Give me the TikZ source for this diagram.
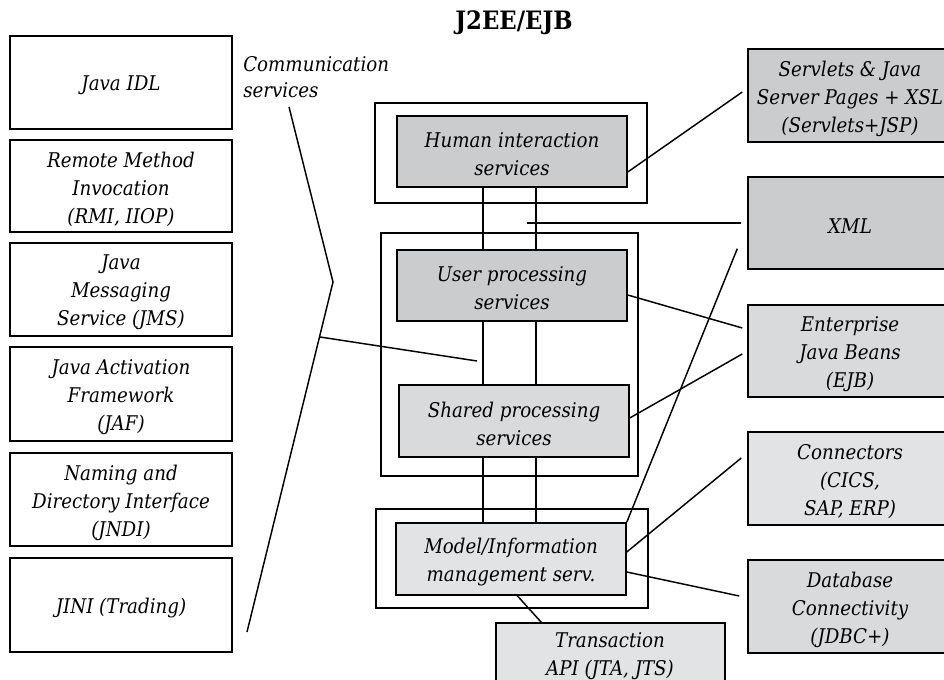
\documentclass[tikz,border=0pt]{standalone}
\usepackage{fontspec}
\setmainfont{DejaVu Serif Condensed}
\usetikzlibrary{fit,calc,backgrounds}
\definecolor{darkfill}{RGB}{203,204,206}
\definecolor{midfill}{RGB}{217,218,220}
\definecolor{lightfill}{RGB}{226,227,229}
\begin{document}
\begin{tikzpicture}[x=0.75pt,y=-0.75pt,
  every node/.style={font=\fontsize{15.2pt}{21pt}\selectfont\itshape, align=center, inner sep=0pt},
  lbl/.style={yshift=-2.2pt},
  box/.style={draw, line width=1.1pt},
  dark/.style={box, fill=darkfill},
  mid/.style={box, fill=midfill},
  light/.style={box, fill=lightfill},
  link/.style={line width=1.1pt}]
\useasboundingbox (0,0) rectangle (944,680);
\clip (0,0) rectangle (944,680);

% title
\node[font=\fontsize{19pt}{22pt}\selectfont\bfseries] (title) at (514,23) {J2EE/EJB};

% communication services column
\node[box, fit={(10,36) (232,129)}] (idl) {};
\node[box, fit={(10,140) (232,232)}] (rmi) {};
\node[box, fit={(10,243) (232,336)}] (jms) {};
\node[box, fit={(10,347) (232,441)}] (jaf) {};
\node[box, fit={(10,453) (232,546)}] (jndi) {};
\node[box, fit={(10,558) (232,652)}] (jini) {};
\node[lbl] (idlt) at (idl) {Java IDL};
\node[lbl] (rmit) at (rmi) {Remote Method\\Invocation\\(RMI, IIOP)};
\node[lbl] (jmst) at (jms) {Java\\Messaging\\Service (JMS)};
\node[lbl] (jaft) at (jaf) {Java Activation\\Framework\\(JAF)};
\node[lbl] (jndit) at (jndi) {Naming and\\Directory Interface\\(JNDI)};
\node[lbl] (jinit) at (jini) {JINI (Trading)};
\node[anchor=west, align=left, font=\fontsize{15.2pt}{19.5pt}\selectfont\itshape] (comm) at (243,77) {Communication\\services};

% tiers
\node[box, fit={(375,103) (647,203)}] (humout) {};
\node[box, fit={(381,233) (638,476)}] (midout) {};
\node[box, fit={(376,509) (648,608)}] (modout) {};

\coordinate (va) at (483,0);
\coordinate (vb) at (536,0);

\node[dark, fit={(397,116) (627,187)}] (hum) {};
\node[dark, fit={(397,250) (627,321)}] (usr) {};
\node[mid, fit={(399,385) (629,457)}] (shr) {};
\node[light, fit={(396,523) (626,595)}] (mod) {};
\node[light, fit={(496,623) (725,684)}] (trn) {};
\node[lbl] (humt) at (hum) {Human interaction\\services};
\node[lbl] (usrt) at (usr) {User processing\\services};
\node[lbl] (shrt) at (shr) {Shared processing\\services};
\node[lbl] (modt) at (mod) {Model/Information\\management serv.};
\node[lbl] (trnt) at (610,653) {Transaction\\API (JTA, JTS)};

% technologies on the right
\node[dark, fit={(748,49) (952,142)}] (srv) {};
\node[dark, fit={(748,177) (952,269)}] (xml) {};
\node[mid, fit={(748,305) (952,397)}] (ejb) {};
\node[light, fit={(748,432) (952,525)}] (con) {};
\node[mid, fit={(748,560) (952,653)}] (db) {};
\node[lbl] (srvt) at (srv) {Servlets \& Java\\Server Pages + XSL\\(Servlets+JSP)};
\node[lbl] (xmlt) at (xml) {XML};
\node[lbl] (ejbt) at (ejb) {Enterprise\\Java Beans\\(EJB)};
\node[lbl] (cont) at (con) {Connectors\\(CICS,\\SAP, ERP)};
\node[lbl] (dbt) at (db) {Database\\Connectivity\\(JDBC+)};

% bracket of communication services
\coordinate (bt) at (289,107);
\coordinate (bp) at (333,282);
\coordinate (bb) at (247,632);
\coordinate (bj) at (320,337);
\coordinate (mj) at (477,361);
\coordinate (xj) at (527,223);

\begin{scope}[on background layer]
  \draw[link] (hum.south -| va) -- (mod.north -| va);
  \draw[link] (hum.south -| vb) -- (mod.north -| vb);
\end{scope}

\draw[link] (bt) -- (bp) -- (bb);
\draw[link] (bj) -- (mj);
\draw[link] (xj) -- ($(xml.west)+(-6,0)$);
\draw[link] ($(hum.east)+(0,20.5)$) -- ($(srv.west)+(-5,-3.5)$);
\draw[link] ($(usr.east)+(0,9.5)$) -- ($(ejb.west)+(-5,-23)$);
\draw[link] ($(shr.east)+(0,-3)$) -- ($(ejb.west)+(-5,3)$);
\draw[link] (mod.north east) -- ($(xml.south west)+(-10,-21)$);
\draw[link] ($(mod.east)+(0,-7)$) -- ($(con.west)+(-6,-20.5)$);
\draw[link] ($(mod.east)+(0,13)$) -- ($(db.west)+(-8,-10.5)$);
\draw[link] ($(mod.south west)+(122,0)$) -- ($(trn.north west)+(46,0)$);
\end{tikzpicture}
\end{document}
